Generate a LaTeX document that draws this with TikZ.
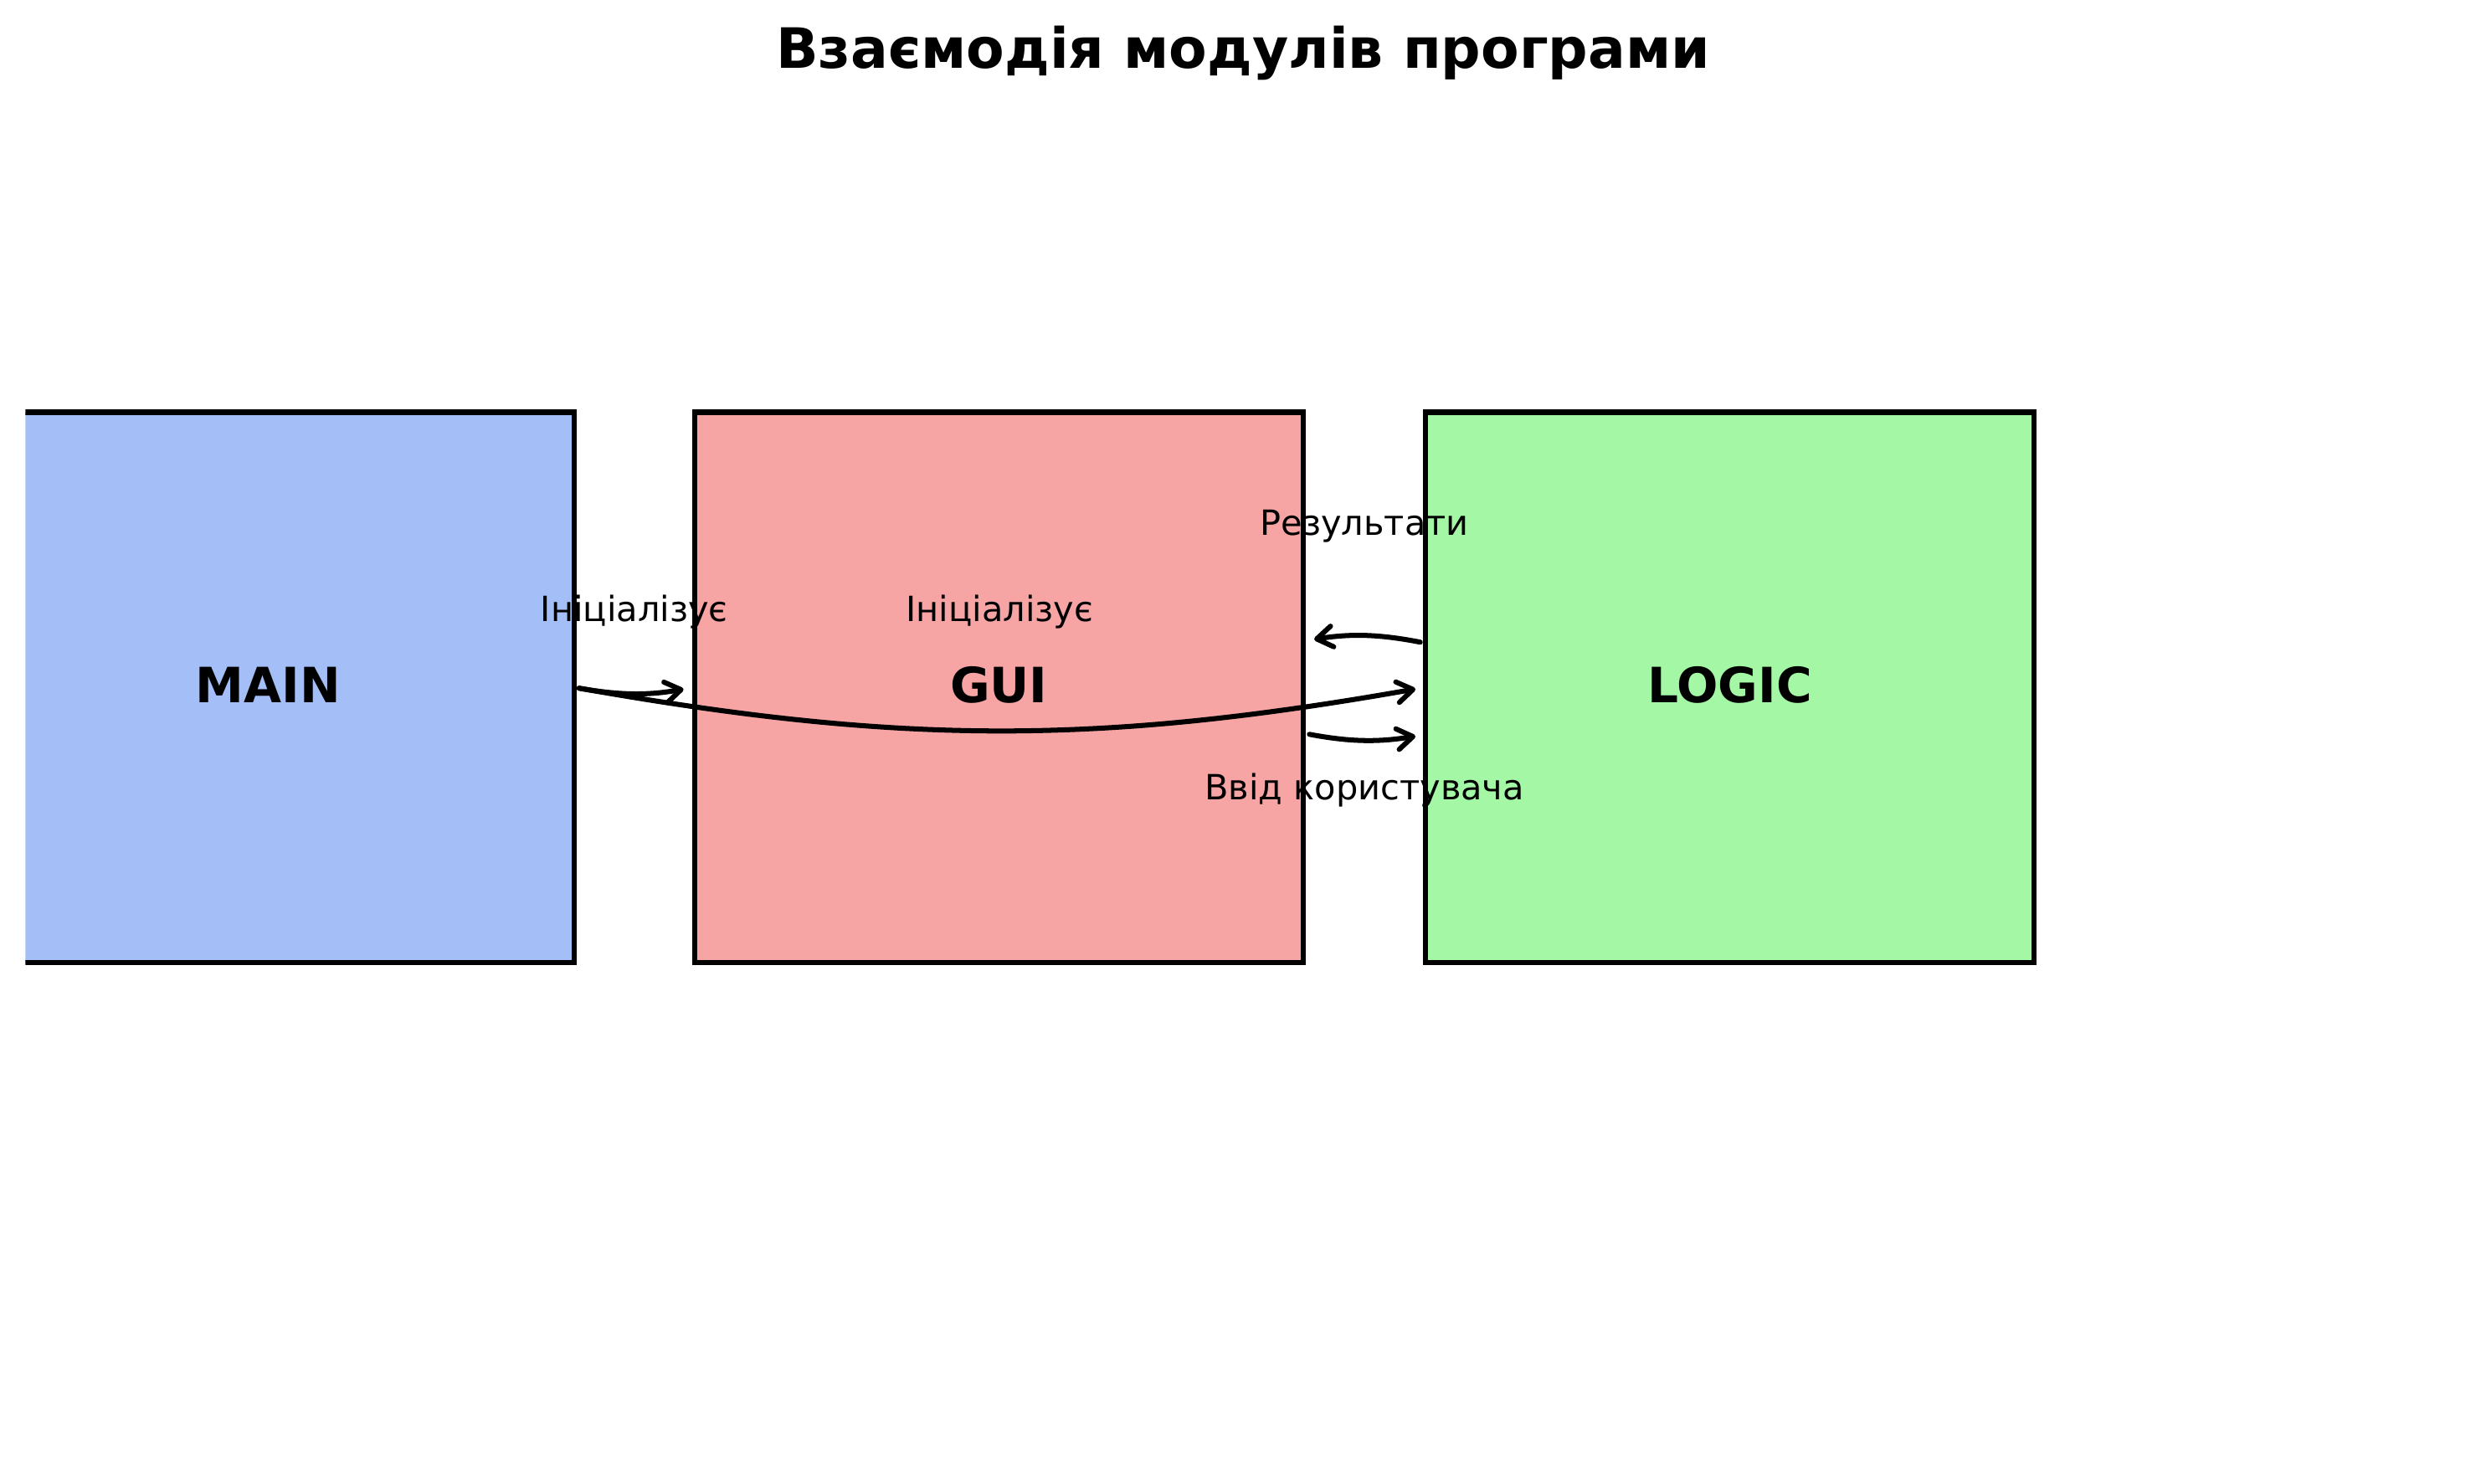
\documentclass[tikz,border=0pt]{standalone}
\usepackage{fontspec}
\setmainfont{DejaVu Sans}
\usetikzlibrary{arrows.meta}
\definecolor{mainfill}{RGB}{164,190,247}
\definecolor{guifill}{RGB}{246,164,164}
\definecolor{logicfill}{RGB}{164,247,164}
\tikzset{
  modbox/.style={draw=black, line width=1.5pt, inner sep=0pt, outer sep=0pt,
    minimum width=175.2pt, minimum height=158.3pt},
  boxlbl/.style={anchor=base, inner sep=0pt, font=\fontsize{14}{16}\selectfont\bfseries},
  lbl/.style={anchor=base, inner sep=0pt, font=\fontsize{10}{12}\selectfont},
  flow/.style={-{Straight Barb[length=4.5pt,width=6pt,round]}, line width=1.45pt, line cap=round}
}
\begin{document}
\begin{tikzpicture}[x=0.4563pt, y=-0.4563pt]
\useasboundingbox (0,0) rectangle (1568,936);
\node[anchor=base, inner sep=0pt, font=\fontsize{16}{19}\selectfont\bfseries] (title) at (784,43) {Взаємодія модулів програми};
\begin{scope}
  \clip (16,0) rectangle (1568,936);
  \node[modbox, fill=mainfill] (MAIN) at (170,433.5) {};
\end{scope}
\node[modbox, fill=guifill] (GUI) at (630,433.5) {};
\node[modbox, fill=logicfill] (LOGIC) at (1091,433.5) {};
\node[boxlbl] (tMAIN) at (169,443.2) {MAIN};
\node[boxlbl] (tGUI) at (630,443.2) {GUI};
\node[boxlbl] (tLOGIC) at (1091,443.2) {LOGIC};
\node[lbl] (l1) at (400,392.2) {Ініціалізує};
\node[lbl] (l2) at (630.5,392.2) {Ініціалізує};
\node[lbl] (l3) at (860.6,337.5) {Результати};
\node[lbl] (l4) at (860.6,504.2) {Ввід користувача};
\draw[flow, shorten <=1.5pt, shorten >=3.2pt] (MAIN.east) to[bend right=10] (GUI.west);
\draw[flow, shorten <=1.5pt, shorten >=2.9pt] (MAIN.east) to[bend right=10] (LOGIC.west);
\draw[flow, shorten <=1.5pt, shorten >=3.2pt] ([yshift=12.7pt]LOGIC.west) to[bend right=10] ([yshift=13.3pt]GUI.east);
\draw[flow, shorten <=1.8pt, shorten >=2.9pt] ([yshift=-13.2pt]GUI.east) to[bend right=10] ([yshift=-13.6pt]LOGIC.west);
\end{tikzpicture}
\end{document}
